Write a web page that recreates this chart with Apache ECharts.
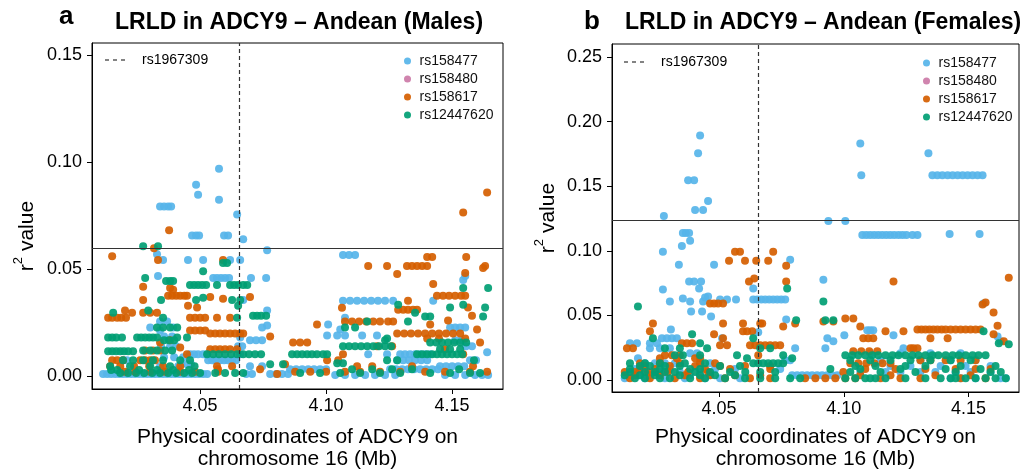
<!DOCTYPE html>
<html>
<head>
<meta charset="utf-8">
<script src="https://cdn.jsdelivr.net/npm/echarts@6/dist/echarts.min.js"></script>
<style>
html, body { margin: 0; padding: 0; background: #fff; }
#chart { width: 1021px; height: 475px; }
</style>
</head>
<body>
<div id="chart"></div>
<script>
// SNP names / colours (legend order)
const snps = ['rs158477', 'rs158480', 'rs158617', 'rs12447620']
const snpColors = ['#56B4E9', '#CC79A7', '#D55E00', '#009E73']
const focalSnp = 'rs1967309'
const focalPos = 4.0656 // Mb
const xTicks = [4.05, 4.10, 4.15]
const malesYTicks = [0, 0.05, 0.10, 0.15]
const femalesYTicks = [0, 0.05, 0.10, 0.15, 0.20, 0.25]
const malesThreshold = 0.0597
const femalesThreshold = 0.1238

// each row: [r2, position1, position2, ...] (positions in Mb)
const malesBlue = [
  [0.0968, 4.0575], [0.0894, 4.0484], [0.0847, 4.0492], [0.0824, 4.0575],
  [0.0792, 4.0341, 4.0357, 4.0373, 4.0385],
  [0.0755, 4.0647],
  [0.0657, 4.0468, 4.0484, 4.0496, 4.0595, 4.0611],
  [0.0639, 4.0671], [0.0588, 4.0766], [0.0569, 4.0329],
  [0.0565, 4.1067, 4.1091, 4.1115],
  [0.0542, 4.0353, 4.0452, 4.0512, 4.0619, 4.0659],
  [0.0468, 4.0333, 4.1552],
  [0.0458, 4.0552, 4.0567, 4.0583, 4.0599, 4.0615, 4.0702, 4.0762],
  [0.0449, 4.1544], [0.0356, 4.0671],
  [0.0352, 4.1067, 4.1095, 4.1123, 4.1151, 4.1179, 4.1206, 4.1234, 4.1266, 4.1425],
  [0.0306, 4.0766], [0.0273, 4.1075], [0.0255, 4.0341, 4.0369],
  [0.0241, 4.1008], [0.0236, 4.0766],
  [0.0227, 4.0302, 4.0393, 4.0746, 4.1492, 4.1512, 4.1532, 4.1552],
  [0.0218, 4.1056], [0.0213, 4.0341],
  [0.019, 4.1004, 4.1044, 4.1075, 4.1143, 4.1202],
  [0.0185, 4.0357, 4.0389],
  [0.018, 4.0659],
  [0.0167, 4.0698, 4.0722, 4.0746, 4.1512, 4.1536],
  [0.0139, 4.0345, 4.0381, 4.0405, 4.0651, 4.0667, 4.1555, 4.1579],
  [0.0111, 4.1639],
  [0.0102, 4.046, 4.0476, 4.0492, 4.0512, 4.0528, 4.0659, 4.1167, 4.1242, 4.1294, 4.1313, 4.1333, 4.1353, 4.1373, 4.1393, 4.1413],
  [0.0088, 4.0357, 4.0397, 4.0433],
  [0.0074, 4.0194, 4.021, 4.0532, 4.0548, 4.0563, 4.0579, 4.0595, 4.0611, 4.0627, 4.0643, 4.1282, 4.1306, 4.1329, 4.1353, 4.1377, 4.1401, 4.1571, 4.1595],
  [0.0055, 4.0425, 4.0448, 4.0464],
  [0.0046, 4.0341, 4.0413, 4.0698, 4.0746, 4.1452, 4.1476, 4.15, 4.1524, 4.1548],
  [0.0032, 4.0857, 4.0881, 4.0905, 4.0929, 4.0952, 4.0976, 4.1, 4.1254, 4.1278, 4.1302, 4.1325, 4.1349, 4.1373, 4.1397, 4.1421, 4.1444],
  [0.001, 4.0115, 4.0131, 4.0147, 4.0163, 4.0179, 4.0194, 4.021, 4.0226, 4.0242, 4.0258, 4.0274, 4.029, 4.0306, 4.0321, 4.0337, 4.0353, 4.0369, 4.0385, 4.0401, 4.0417, 4.0433, 4.0448, 4.0464, 4.048, 4.0496, 4.0512, 4.0528, 4.0683, 4.0706, 4.0778, 4.0802, 4.0825, 4.0849],
  [0.0005, 4.1036, 4.1075, 4.1115, 4.1155, 4.1194, 4.1234, 4.1274, 4.1472, 4.1512, 4.1552, 4.1591, 4.1619, 4.1643]
]
const malesPink = []
const malesOrange = [
  [0.0857, 4.1639], [0.0764, 4.1544], [0.0681, 4.0377], [0.0597, 4.0317], [0.056, 4.0151],
  [0.0556, 4.1401, 4.1421, 4.1556],
  [0.0542, 4.0333, 4.0591],
  [0.0514, 4.1167, 4.1242, 4.1321, 4.1341, 4.1361, 4.1381, 4.1401, 4.1631],
  [0.0505, 4.1623], [0.0481, 4.1552], [0.0477, 4.1282], [0.043, 4.1425],
  [0.0417, 4.0274], [0.0412, 4.0381], [0.0403, 4.0393],
  [0.0375, 4.0373, 4.0389, 4.0405, 4.0421, 4.0437, 4.0448, 4.144, 4.1464, 4.1488, 4.1512, 4.1536, 4.1552],
  [0.037, 4.054, 4.0698], [0.0361, 4.0591], [0.0356, 4.0274], [0.0352, 4.1325],
  [0.0329, 4.0452], [0.032, 4.0488, 4.1563], [0.0319, 4.1063],
  [0.031, 4.1286, 4.1306, 4.1325, 4.1345, 4.1361],
  [0.0306, 4.0202],
  [0.0296, 4.023, 4.0274, 4.0302, 4.0329],
  [0.0282, 4.1579],
  [0.0273, 4.0135, 4.0151, 4.0171, 4.0187, 4.0206, 4.046, 4.048, 4.05, 4.052, 4.0567, 4.0619],
  [0.026, 4.1484],
  [0.0255, 4.1075, 4.1103, 4.1131, 4.1159, 4.1187, 4.1214, 4.1246, 4.1266],
  [0.0241, 4.0964, 4.1413], [0.0218, 4.1599],
  [0.0213, 4.046, 4.048, 4.05, 4.052],
  [0.0199, 4.054, 4.056, 4.0579, 4.0599, 4.0619, 4.0639, 4.0659, 4.0671, 4.1282, 4.131, 4.1337, 4.1365, 4.1393, 4.1421, 4.1448, 4.1476, 4.1504, 4.1532],
  [0.0185, 4.0778],
  [0.0176, 4.1401, 4.1448, 4.1552],
  [0.0167, 4.0381],
  [0.0157, 4.0341, 4.0869, 4.0897, 4.0925, 4.1611],
  [0.0139, 4.1202, 4.1262],
  [0.0134, 4.0421],
  [0.0125, 4.054, 4.056, 4.0579, 4.0599, 4.0619, 4.0647, 4.1472],
  [0.012, 4.0282, 4.0313, 4.0341],
  [0.0102, 4.0448, 4.1067, 4.1544],
  [0.0074, 4.0151, 4.0171, 4.0194, 4.0262, 4.0282, 4.0302, 4.0321, 4.1004, 4.1048],
  [0.0055, 4.0837],
  [0.0046, 4.0143, 4.0183, 4.0238, 4.0298, 4.0353, 4.0421, 4.0567, 4.0627, 4.1123, 4.1183, 4.1341, 4.1583],
  [0.0032, 4.0571, 4.0738],
  [0.002, 4.0202, 4.0242, 4.0302, 4.0361, 4.0421, 4.048, 4.0571, 4.0877, 4.0937, 4.1, 4.1075, 4.1135, 4.1214, 4.1294, 4.1393, 4.1472, 4.1571, 4.1639],
  [0.001, 4.0806]
]
const malesGreen = [
  [0.0606, 4.0274, 4.0333],
  [0.0528, 4.0591, 4.0607],
  [0.049, 4.0512], [0.0458, 4.0282],
  [0.0444, 4.0365, 4.0381, 4.0393],
  [0.0426, 4.046, 4.0476, 4.0492, 4.0508, 4.0524, 4.0567, 4.0619, 4.0635, 4.0651, 4.0671, 4.0687],
  [0.0412, 4.1544, 4.1643],
  [0.0366, 4.0512],
  [0.0356, 4.0345, 4.0484, 4.0627, 4.0659],
  [0.0333, 4.1286, 4.1544], [0.0329, 4.0651], [0.032, 4.1492, 4.1631],
  [0.0306, 4.0294], [0.0296, 4.0155, 4.1353],
  [0.0282, 4.071, 4.0726, 4.0742, 4.0762],
  [0.0278, 4.1393, 4.1413, 4.1623],
  [0.0273, 4.0353, 4.0647], [0.0255, 4.1163, 4.1325],
  [0.0227, 4.0329, 4.0353, 4.0381, 4.0409, 4.1075, 4.1115],
  [0.018, 4.0135, 4.0151, 4.0167, 4.019, 4.025, 4.0266, 4.0282, 4.0298, 4.0313, 4.0329, 4.0409, 4.0448],
  [0.0176, 4.1242],
  [0.0167, 4.0357, 4.0377, 4.0397, 4.1234],
  [0.0157, 4.1413, 4.1437, 4.146, 4.1484, 4.1508, 4.1532, 4.1556],
  [0.0139, 4.1067, 4.1091, 4.1115, 4.1139, 4.1163, 4.1187, 4.121, 4.1234, 4.1258],
  [0.0125, 4.1452, 4.1492, 4.1532],
  [0.012, 4.0274, 4.0302, 4.0329, 4.0361, 4.0389],
  [0.0116, 4.0135, 4.0151, 4.0167, 4.0183, 4.0198, 4.0214, 4.0234],
  [0.0102, 4.0528, 4.0552, 4.0575, 4.0599, 4.0623, 4.0647, 4.0671, 4.0694, 4.0718, 4.0742, 4.0865, 4.0885, 4.0905, 4.0925, 4.0944, 4.0964, 4.0988, 4.1004, 4.1361, 4.1381, 4.1401, 4.1421, 4.144, 4.146, 4.148, 4.15, 4.152, 4.154],
  [0.0074, 4.0194, 4.0234, 4.0274, 4.0313, 4.0353, 4.0421, 4.046, 4.1242, 4.1282, 4.1587],
  [0.006, 4.1044, 4.1067], [0.0055, 4.0778, 4.0829],
  [0.0046, 4.0143, 4.0222, 4.0302, 4.0381, 4.0478],
  [0.0032, 4.1103, 4.1183, 4.1262, 4.1341, 4.1528],
  [0.0028, 4.0147, 4.0171, 4.0258, 4.0329, 4.0393, 4.0456],
  [0.0014, 4.0183, 4.0214, 4.0246, 4.0278, 4.031, 4.0341, 4.0373, 4.0405, 4.0437, 4.0468, 4.05, 4.056, 4.0599, 4.0639, 4.0671, 4.0897, 4.0976, 4.1056, 4.1135, 4.1214, 4.1294, 4.1413, 4.1492, 4.1571, 4.1611]
]

const femalesBlue = [
  [0.1892, 4.0424], [0.1831, 4.1066], [0.1754, 4.0416, 4.1339],
  [0.1585, 4.107, 4.1355, 4.1375, 4.1395, 4.1416, 4.1436, 4.1456, 4.1476, 4.1496, 4.1516, 4.1536, 4.1556],
  [0.1546, 4.0376, 4.04], [0.1385, 4.0456], [0.1315, 4.0404, 4.0436], [0.1269, 4.0279],
  [0.1231, 4.0938, 4.1006],
  [0.1138, 4.0355, 4.0367, 4.038],
  [0.1131, 4.1424, 4.1544],
  [0.1123, 4.1074, 4.109, 4.1106, 4.1122, 4.1138, 4.1154, 4.117, 4.1186, 4.1202, 4.1219, 4.1235, 4.1251, 4.1275, 4.1295],
  [0.1077, 4.0384], [0.1038, 4.0351], [0.0992, 4.0275], [0.0931, 4.0785],
  [0.0892, 4.0339, 4.048], [0.0777, 4.0918],
  [0.0762, 4.038, 4.04, 4.0428],
  [0.0708, 4.042, 4.0637], [0.07, 4.0275], [0.0646, 4.0456], [0.0638, 4.0444], [0.0631, 4.0355],
  [0.0623, 4.0504, 4.0532, 4.0568, 4.0637, 4.0653, 4.0669, 4.0685, 4.0701, 4.0717, 4.0733, 4.0749, 4.0765],
  [0.0608, 4.0303, 4.0384, 4.0436],
  [0.0592, 4.156], [0.0531, 4.0388, 4.0432], [0.0492, 4.0468], [0.0469, 4.0769],
  [0.0392, 4.0307], [0.0385, 4.1094, 4.1106, 4.1118], [0.0369, 4.0657],
  [0.0346, 4.1002, 4.1199], [0.0337, 4.1616],
  [0.0323, 4.0271, 4.0291, 4.0311, 4.0331, 4.0512, 4.0934],
  [0.03, 4.0958, 4.1628],
  [0.0285, 4.0143, 4.0171, 4.0223, 4.0251],
  [0.0246, 4.0223, 4.0263, 4.0303, 4.0805, 4.0926, 4.1239],
  [0.0208, 4.0384, 4.0412, 4.1106, 4.1227, 4.1347, 4.1468],
  [0.0169, 4.0175],
  [0.0154, 4.0765, 4.0785, 4.1147, 4.1307, 4.1428, 4.1528],
  [0.0131, 4.0203, 4.0243, 4.0283, 4.0323, 4.0424, 4.0464],
  [0.0108, 4.1187, 4.1267, 4.1388, 4.1488, 4.1588],
  [0.0085, 4.0163, 4.0303, 4.0484, 4.0564, 4.0745],
  [0.0062, 4.0183, 4.0263, 4.0343, 4.0424, 4.1066, 4.1167, 4.1227, 4.1307, 4.1367, 4.1448, 4.1508, 4.1588],
  [0.0038, 4.0143, 4.0183, 4.0223, 4.0384, 4.0424, 4.0464, 4.0793, 4.0813, 4.0833, 4.0853, 4.0873, 4.0893, 4.0913, 4.0933, 4.0953, 4.0974],
  [0.0015, 4.0122, 4.0203, 4.0283, 4.0363, 4.0444, 4.0504, 4.0584, 4.1428, 4.1468, 4.1528, 4.1628, 4.1649]
]
const femalesPink = []
const femalesOrange = [
  [0.0992, 4.0564, 4.0584, 4.0717],
  [0.0923, 4.054, 4.0604, 4.0649, 4.0697],
  [0.0885, 4.0769], [0.0792, 4.1661], [0.0785, 4.0641],
  [0.0762, 4.062, 4.0769, 4.1199],
  [0.06, 4.1568],
  [0.0592, 4.0464, 4.048, 4.0496, 4.0516],
  [0.0585, 4.1556], [0.0523, 4.16],
  [0.0477, 4.1006, 4.1038], [0.0454, 4.0918, 4.0958],
  [0.0438, 4.0235, 4.0516, 4.0596, 4.0665, 4.0673, 4.0805],
  [0.042, 4.1616],
  [0.0415, 4.0757, 4.1066],
  [0.0392, 4.1295, 4.1311, 4.1327, 4.1343, 4.1359, 4.1375, 4.1392, 4.1408, 4.1428, 4.1448, 4.1468, 4.1488, 4.1508, 4.1528, 4.1548],
  [0.0377, 4.0223, 4.0596, 4.0612, 4.0633, 4.1167, 4.1239],
  [0.0354, 4.048, 4.16],
  [0.0323, 4.0516, 4.1078, 4.1098, 4.1118, 4.1347, 4.1416],
  [0.03, 4.1641],
  [0.0285, 4.0351, 4.0371, 4.0392],
  [0.0269, 4.0504, 4.0532, 4.0624, 4.0645, 4.0665, 4.0685, 4.0705, 4.0725, 4.0745],
  [0.0246, 4.0131, 4.0155, 4.1267, 4.1279, 4.1295],
  [0.0223, 4.1038, 4.107, 4.1102, 4.1134],
  [0.0192, 4.0283, 4.0311, 4.0343, 4.0657],
  [0.0169, 4.0263, 4.0331, 4.0404, 4.0424],
  [0.0154, 4.1307, 4.1347, 4.1408, 4.1468, 4.1528],
  [0.0131, 4.0183, 4.0263, 4.0343, 4.0424, 4.0484, 4.1026, 4.1058, 4.109, 4.1122, 4.1155, 4.1187],
  [0.0108, 4.0203, 4.0303, 4.0404, 4.0504, 4.0604, 4.0705],
  [0.0085, 4.0183, 4.0243, 4.0444, 4.0544, 4.0705, 4.1086, 4.1207, 4.1327, 4.1448, 4.1528, 4.1588],
  [0.0062, 4.0122, 4.0163, 4.0215, 4.0295, 4.0376, 4.0456, 4.0998],
  [0.0038, 4.0163, 4.0263, 4.0363, 4.0464, 4.0564, 4.0665, 4.1066, 4.1187, 4.1367, 4.1508],
  [0.0015, 4.0143, 4.0223, 4.0323, 4.0424, 4.0524, 4.0624, 4.0705, 4.0845, 4.0886, 4.0926, 4.0966, 4.1006, 4.1046, 4.1147, 4.1227, 4.1307, 4.1468, 4.1568]
]
const femalesGreen = [
  [0.0708, 4.0773], [0.0608, 4.0918], [0.0569, 4.0175],
  [0.0462, 4.0809, 4.0926, 4.0958],
  [0.0377, 4.156], [0.0354, 4.0392], [0.0323, 4.0235, 4.0637],
  [0.0285, 4.0424, 4.1621], [0.0277, 4.1661],
  [0.0246, 4.0283, 4.0343, 4.0452, 4.0665, 4.0705],
  [0.0192, 4.0323, 4.0355, 4.0424, 4.0572, 4.0757, 4.1006, 4.1034, 4.1058, 4.1086, 4.1114, 4.1138, 4.1167, 4.1195, 4.1219, 4.1247, 4.1275, 4.1299, 4.1327, 4.1355, 4.1379, 4.1408, 4.1436, 4.146, 4.1488, 4.1516, 4.154, 4.1568],
  [0.0169, 4.0612, 4.0793],
  [0.0154, 4.1026, 4.1106, 4.1187, 4.1267, 4.1347, 4.1428, 4.1508],
  [0.0131, 4.0143, 4.0203, 4.0263, 4.0363, 4.0444, 4.0637, 4.0657, 4.0677, 4.0697, 4.0717, 4.0737, 4.0757],
  [0.0108, 4.0183, 4.0223, 4.0283, 4.0343, 4.0504, 4.0584, 4.1046, 4.1127, 4.1247, 4.1327, 4.1468, 4.1608],
  [0.0085, 4.0143, 4.0263, 4.0384, 4.0424, 4.0946, 4.1066, 4.1227, 4.1408, 4.1548],
  [0.0062, 4.0143, 4.0203, 4.0243, 4.0283, 4.0323, 4.0404, 4.0464, 4.0544, 4.0605, 4.0665, 4.0725, 4.1026, 4.1147, 4.1287, 4.1448, 4.1588, 4.1629],
  [0.0038, 4.0122, 4.0183, 4.0243, 4.0343, 4.0424, 4.0484, 4.0564],
  [0.0015, 4.0163, 4.0203, 4.0263, 4.0303, 4.0384, 4.0444, 4.0524, 4.0604, 4.0665, 4.0725, 4.0785, 4.0825, 4.1006, 4.1046, 4.1086, 4.1106, 4.1127, 4.1167, 4.1247, 4.1327, 4.1388, 4.1428, 4.1448, 4.1488, 4.1528, 4.1568, 4.1608, 4.1649]
]

const FONT = '"Liberation Sans", Arial, Helvetica, sans-serif'

function toPoints (rows) {
  const pts = []
  rows.forEach(function (row) {
    for (let i = 1; i < row.length; i++) {
      pts.push([row[i], row[0]])
    }
  })
  return pts
}

function makeSeries (idx, sets, threshold) {
  return sets.map(function (rows, k) {
    const s = {
      type: 'scatter',
      name: snps[k],
      xAxisIndex: idx,
      yAxisIndex: idx,
      data: toPoints(rows),
      symbolSize: 8,
      itemStyle: { color: snpColors[k], opacity: 0.92 }
    }
    if (k === sets.length - 1) {
      s.markLine = {
        silent: true,
        precision: 6, // keep the exact positions (default rounds to 2 decimals)
        symbol: ['none', 'none'],
        label: { show: false },
        animation: false,
        data: [
          { xAxis: focalPos, lineStyle: { type: [4, 3], color: '#333', width: 1.2 } },
          { yAxis: threshold, lineStyle: { type: 'solid', color: '#333', width: 1 } }
        ]
      }
    }
    return s
  })
}

function xAxisOf (idx, gap) {
  return {
    type: 'value',
    gridIndex: idx,
    min: 4.0071,
    max: 4.1702,
    axisLine: { show: true, onZero: false, lineStyle: { color: '#000' } },
    axisTick: { show: true, length: 5, customValues: xTicks, lineStyle: { color: '#000' } },
    axisLabel: { customValues: xTicks, formatter: v => v.toFixed(2), fontSize: 18, color: '#000', margin: 8, fontFamily: FONT },
    splitLine: { show: false },
    name: 'Physical coordinates of ADCY9 on\nchromosome 16 (Mb)',
    nameLocation: 'middle',
    nameGap: gap,
    nameTextStyle: { fontSize: 21, lineHeight: 22, color: '#000', fontFamily: FONT }
  }
}

function yAxisOf (idx, min, max, ticks) {
  return {
    type: 'value',
    gridIndex: idx,
    min: min,
    max: max,
    axisLine: { show: true, onZero: false, lineStyle: { color: '#000' } },
    axisTick: { show: true, length: 5, customValues: ticks, lineStyle: { color: '#000' } },
    axisLabel: { customValues: ticks, formatter: v => v.toFixed(2), fontSize: 18, color: '#000', margin: 10, fontFamily: FONT },
    splitLine: { show: false }
  }
}

function legendOf (left, top) {
  return {
    data: snps,
    orient: 'vertical',
    left: left,
    top: top,
    icon: 'circle',
    itemWidth: 14,
    itemHeight: 7,
    itemGap: 0,
    selectedMode: false,
    textStyle: { fontSize: 14, lineHeight: 18, color: '#111', fontFamily: FONT }
  }
}

function yName (x, y) {
  return {
    type: 'text',
    x: x,
    y: y,
    rotation: Math.PI / 2,
    silent: true,
    style: {
      text: '{a|r}{b|2}{a| value}',
      align: 'center',
      verticalAlign: 'middle',
      fill: '#000',
      rich: {
        a: { fontSize: 21, lineHeight: 26, verticalAlign: 'bottom', fontFamily: FONT },
        b: { fontSize: 13, lineHeight: 26, verticalAlign: 'top', fontFamily: FONT }
      }
    }
  }
}

function text (x, y, str, font) {
  return {
    type: 'text', x: x, y: y, silent: true,
    style: { text: str, font: font, fill: '#000', align: 'left', verticalAlign: 'middle' }
  }
}

function dashKey (x, y) {
  return [
    {
      type: 'line', silent: true,
      shape: { x1: x, y1: y, x2: x + 23, y2: y },
      style: { stroke: '#333', lineWidth: 1.2, lineDash: [4, 4] }
    },
    text(x + 37, y, focalSnp, '14px ' + FONT)
  ]
}

const chart = echarts.init(document.getElementById('chart'), null, { renderer: 'canvas' })

const option = {
  animation: false,
  backgroundColor: '#fff',
  grid: [
    { left: 92, top: 43, width: 411, height: 349, show: true, borderColor: '#000', borderWidth: 1, containLabel: false },
    { left: 612, top: 44, width: 407, height: 350, show: true, borderColor: '#000', borderWidth: 1, containLabel: false }
  ],
  xAxis: [xAxisOf(0, 37), xAxisOf(1, 34)],
  yAxis: [
    yAxisOf(0, -0.00602, 0.15556, malesYTicks),
    yAxisOf(1, -0.00923, 0.26, femalesYTicks)
  ],
  legend: [legendOf(399, 47), legendOf(918, 49)],
  graphic: [
    text(59, 17, 'a', 'bold 26px ' + FONT),
    text(115, 23, 'LRLD in ADCY9 \u2013 Andean (Males)', 'bold 23px ' + FONT),
    text(584, 22, 'b', 'bold 26px ' + FONT),
    text(625, 23, 'LRLD in ADCY9 \u2013 Andean (Females)', 'bold 23px ' + FONT),
    yName(25, 236),
    yName(546, 218)
  ].concat(dashKey(105, 60), dashKey(624, 62)),
  series: []
    .concat(makeSeries(0, [malesBlue, malesPink, malesOrange, malesGreen], malesThreshold))
    .concat(makeSeries(1, [femalesBlue, femalesPink, femalesOrange, femalesGreen], femalesThreshold))
}

chart.setOption(option)
</script>
</body>
</html>
